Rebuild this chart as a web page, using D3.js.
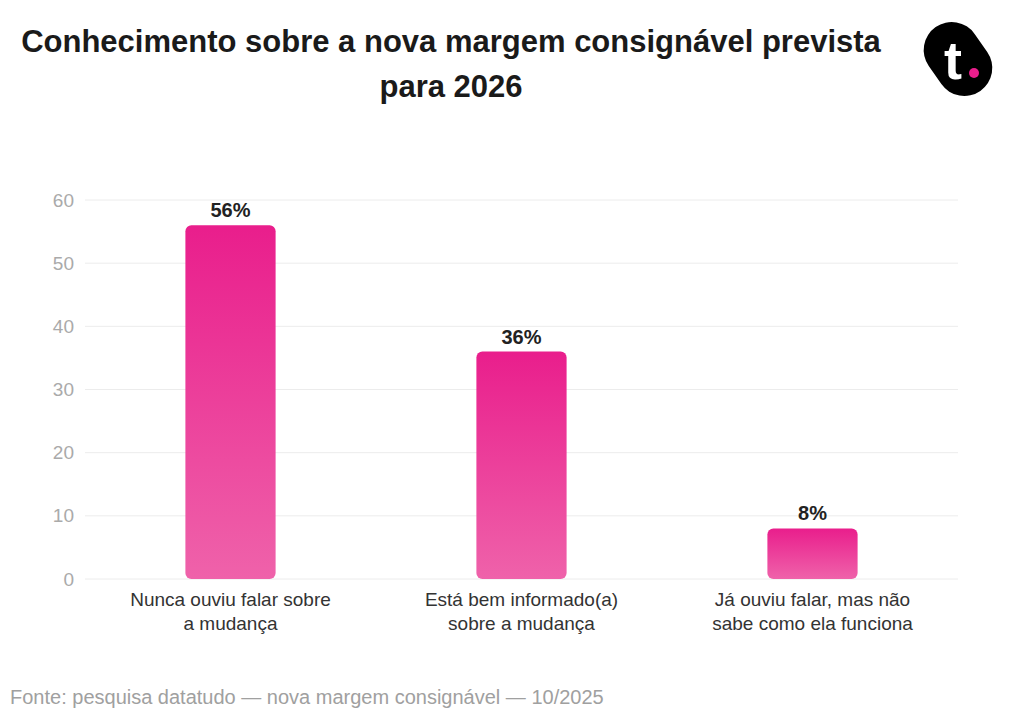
<!DOCTYPE html>
<html lang="pt">
<head>
  <meta charset="UTF-8">
  <title>Conhecimento sobre a nova margem consignável</title>
  <script src="https://d3js.org/d3.v7.min.js"></script>
  <style>
    body { margin: 0; background: #fff; }
    svg { display: block; font-family: "Liberation Sans", Arial, sans-serif; }
  </style>
</head>
<body>
  <div id="chart"></div>
  <script>
    // dados
    const categories = [
      ["Nunca ouviu falar sobre", "a mudança"],
      ["Está bem informado(a)", "sobre a mudança"],
      ["Já ouviu falar, mas não", "sabe como ela funciona"]
    ];
    const values = [56, 36, 8];
    const yTicks = [0, 10, 20, 30, 40, 50, 60];

    const width = 1013, height = 728;
    const margin = { top: 200, right: 55, bottom: 149, left: 85 };

    const svg = d3.select("#chart").append("svg")
      .attr("width", width)
      .attr("height", height);

    const defs = svg.append("defs");
    const grad = defs.append("linearGradient")
      .attr("id", "barGrad")
      .attr("x1", 0).attr("y1", 0).attr("x2", 0).attr("y2", 1);
    grad.append("stop").attr("offset", "0%").attr("stop-color", "#e91e8c");
    grad.append("stop").attr("offset", "100%").attr("stop-color", "#ef62aa");

    // título
    const title = svg.append("text")
      .attr("text-anchor", "middle")
      .attr("font-size", 31)
      .attr("font-weight", "bold")
      .attr("fill", "#1a1a1a");
    title.append("tspan").attr("x", 451).attr("y", 52).text("Conhecimento sobre a nova margem consignável prevista");
    title.append("tspan").attr("x", 451).attr("y", 97).text("para 2026");

    // escalas
    const x = d3.scaleBand()
      .domain(d3.range(values.length))
      .range([margin.left, width - margin.right])
      .paddingInner(0.69)
      .paddingOuter(0.345);

    const y = d3.scaleLinear()
      .domain([0, 60])
      .range([height - margin.bottom, margin.top]);

    // grade
    svg.append("g")
      .selectAll("line")
      .data(yTicks)
      .join("line")
      .attr("x1", margin.left)
      .attr("x2", width - margin.right)
      .attr("y1", d => y(d))
      .attr("y2", d => y(d))
      .attr("stroke", "#ececec")
      .attr("stroke-width", 1);

    // eixo y
    const yAxis = svg.append("g")
      .attr("transform", `translate(${margin.left},0)`)
      .call(d3.axisLeft(y).tickValues(yTicks).tickSize(0).tickPadding(11));
    yAxis.select(".domain").remove();
    yAxis.selectAll("text")
      .attr("font-size", 19)
      .attr("font-family", "Liberation Sans, Arial, sans-serif")
      .attr("fill", "#aaaaaa");

    // barras
    svg.append("g")
      .selectAll("rect")
      .data(values)
      .join("rect")
      .attr("x", (d, i) => x(i))
      .attr("y", d => y(d))
      .attr("width", x.bandwidth())
      .attr("height", d => y(0) - y(d))
      .attr("rx", 6)
      .attr("fill", "url(#barGrad)");

    // rótulos de valor
    svg.append("g")
      .selectAll("text")
      .data(values)
      .join("text")
      .attr("x", (d, i) => x(i) + x.bandwidth() / 2)
      .attr("y", d => y(d) - 8)
      .attr("text-anchor", "middle")
      .attr("font-size", 20)
      .attr("font-weight", "bold")
      .attr("fill", "#222")
      .text(d => d + "%");

    // rótulos das categorias
    const cat = svg.append("g")
      .selectAll("text")
      .data(categories)
      .join("text")
      .attr("text-anchor", "middle")
      .attr("font-size", 19)
      .attr("fill", "#333");
    cat.each(function (lines, i) {
      const cx = x(i) + x.bandwidth() / 2;
      d3.select(this).selectAll("tspan")
        .data(lines)
        .join("tspan")
        .attr("x", cx)
        .attr("y", (l, j) => y(0) + 27 + j * 24)
        .text(l => l);
    });

    // fonte
    svg.append("text")
      .attr("x", 10)
      .attr("y", 704)
      .attr("font-size", 20)
      .attr("fill", "#a0a0a0")
      .text("Fonte: pesquisa datatudo — nova margem consignável — 10/2025");

    // logo
    const logo = svg.append("g").attr("transform", "translate(958,59) rotate(-35)");
    logo.append("rect")
      .attr("x", -28).attr("y", -39)
      .attr("width", 56).attr("height", 78)
      .attr("rx", 28)
      .attr("fill", "#000");
    const logoText = svg.append("g").attr("transform", "translate(958,59)");
    logoText.append("text")
      .attr("x", -5).attr("y", 20)
      .attr("text-anchor", "middle")
      .attr("font-size", 54)
      .attr("font-weight", "bold")
      .attr("fill", "#fff")
      .text("t");
    logoText.append("circle")
      .attr("cx", 16).attr("cy", 14)
      .attr("r", 5)
      .attr("fill", "#e91e8c");
  </script>
</body>
</html>
